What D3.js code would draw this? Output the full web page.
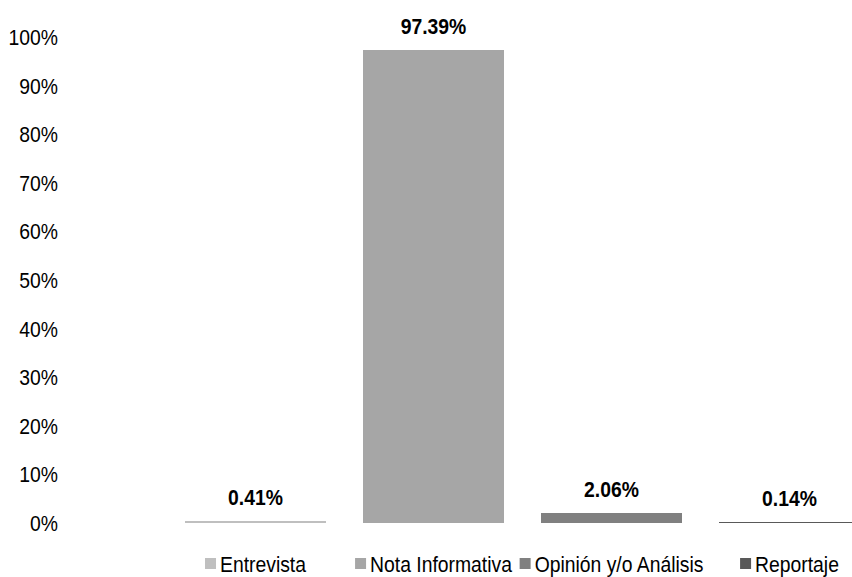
<!DOCTYPE html>
<html>
<head>
<meta charset="utf-8">
<script src="https://cdn.jsdelivr.net/npm/d3@7"></script>
<style>
  html, body { margin: 0; padding: 0; background: #fff; }
  svg { display: block; font-family: 'Liberation Sans', Arial, sans-serif; }
</style>
</head>
<body>
<svg id="chart" width="852" height="577"></svg>
<script>
const categories = ["Entrevista", "Nota Informativa", "Opinión y/o Análisis", "Reportaje"];
const values = [0.41, 97.39, 2.06, 0.14];
const valueLabels = ["0.41%", "97.39%", "2.06%", "0.14%"];
const tickValues = [0, 10, 20, 30, 40, 50, 60, 70, 80, 90, 100];
const tickLabels = ["0%", "10%", "20%", "30%", "40%", "50%", "60%", "70%", "80%", "90%", "100%"];
const colors = ["#bfbfbf", "#a6a6a6", "#808080", "#595959"];

// Emulated narrow font: larger size, horizontally compressed
const SIZE = "21.5px";
const SX = 0.9;

const svg = d3.select("#chart");

const x = d3.scaleBand()
  .domain(categories)
  .range([166.5, 878.5])
  .paddingInner(0.208)
  .paddingOuter(0.104);

const y = d3.scaleLinear().domain([0, 100]).range([523, 37]);

const color = d3.scaleOrdinal().domain(categories).range(colors);

const yAxis = d3.axisLeft(y)
  .tickValues(tickValues)
  .tickFormat((d, i) => tickLabels[i])
  .tickSize(0)
  .tickPadding(0);

const gy = svg.append("g").attr("transform", "translate(58,0)").call(yAxis);
gy.select(".domain").remove();
gy.selectAll("text")
  .attr("font-family", "'Liberation Sans', Arial, sans-serif")
  .attr("font-size", SIZE)
  .attr("fill", "#000")
  .attr("x", 0)
  .attr("dy", "0.35em")
  .attr("transform", `scale(${SX},1)`);

const data = categories.map((c, i) => ({ c, v: values[i], label: valueLabels[i] }));

svg.append("g").selectAll("rect")
  .data(data)
  .join("rect")
  .attr("x", d => x(d.c))
  .attr("width", x.bandwidth())
  .attr("y", d => y(d.v))
  .attr("height", d => y(0) - y(d.v))
  .attr("fill", d => color(d.c))
  .attr("shape-rendering", "crispEdges");

svg.append("g").selectAll("text")
  .data(data)
  .join("text")
  .attr("transform", d => `translate(${x(d.c) + x.bandwidth() / 2},${y(d.v) - 16}) scale(${SX},1)`)
  .attr("text-anchor", "middle")
  .attr("font-size", SIZE)
  .attr("font-weight", "bold")
  .attr("fill", "#000")
  .text(d => d.label);

const legend = svg.append("g");
const items = legend.selectAll("g")
  .data(data)
  .join("g");

items.each(function(d) {
  const g = d3.select(this);
  const t = g.append("text")
    .attr("transform", `translate(15,572) scale(${SX},1)`)
    .attr("font-size", SIZE)
    .attr("fill", "#000")
    .text(d.c);
  g.append("rect")
    .attr("x", 0)
    .attr("y", 558)
    .attr("width", 11)
    .attr("height", 11)
    .attr("fill", color(d.c));
  const w = 15 + t.node().getComputedTextLength() * SX;
  const cx = x(d.c) + x.bandwidth() / 2;
  g.attr("transform", `translate(${cx - w / 2},0)`);
});
</script>
</body>
</html>
